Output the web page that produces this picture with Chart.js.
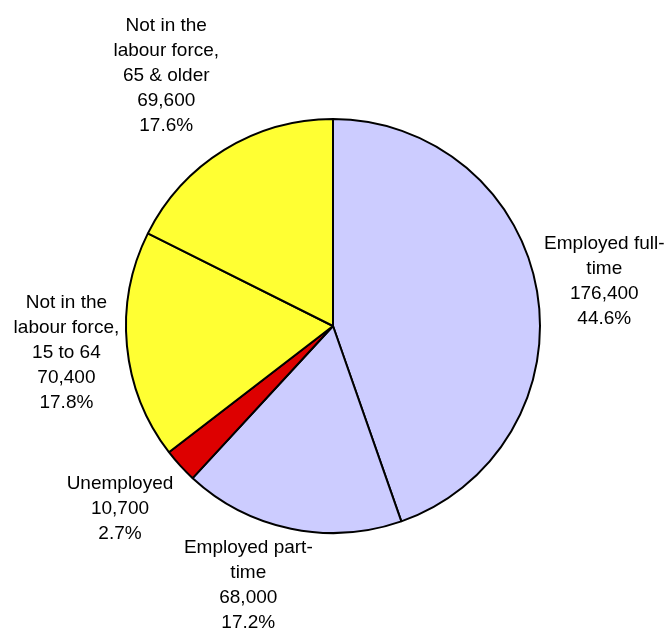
<!DOCTYPE html>
<html>
<head>
<meta charset="utf-8">
<script src="https://cdn.jsdelivr.net/npm/chart.js@4"></script>
<style>
  html, body { margin: 0; padding: 0; background: #ffffff; }
  #wrap { width: 667px; height: 631px; position: relative; }
</style>
</head>
<body>
<div id="wrap"><canvas id="chart" width="667" height="631"></canvas></div>
<script>
// Population by labour force status
const categories = [
  ['Employed full-', 'time'],
  ['Employed part-', 'time'],
  ['Unemployed'],
  ['Not in the', 'labour force,', '15 to 64'],
  ['Not in the', 'labour force,', '65 & older']
];
const values = [176400, 68000, 10700, 70400, 69600];
const colors = ['#CCCCFF', '#CCCCFF', '#DD0000', '#FFFF33', '#FFFF33'];

const total = values.reduce((a, b) => a + b, 0);
const fmt = new Intl.NumberFormat('en-US');

// Outside labels: name lines, count and share, set just beyond each slice
const outsideLabels = {
  id: 'outsideLabels',
  afterDatasetsDraw(chart, args, opts) {
    const ctx = chart.ctx;
    const meta = chart.getDatasetMeta(0);
    const lineH = opts.lineHeight;
    ctx.save();
    ctx.font = opts.font;
    ctx.fillStyle = opts.color;
    ctx.textAlign = 'center';
    ctx.textBaseline = 'middle';
    meta.data.forEach((arc, i) => {
      const p = arc.getProps(['x', 'y', 'startAngle', 'endAngle', 'outerRadius'], true);
      const mid = (p.startAngle + p.endAngle) / 2;
      const v = values[i];
      const lines = categories[i].concat([fmt.format(v), (v / total * 100).toFixed(1) + '%']);
      const w = Math.max(...lines.map(l => ctx.measureText(l).width));
      const h = lines.length * lineH;
      const c = Math.cos(mid), s = Math.sin(mid);
      const r = p.outerRadius + opts.gap;
      const nudge = opts.nudge[i] || [0, 0];
      const cx = p.x + c * r + c * w / 2 + nudge[0];
      const cy = p.y + s * r + s * h / 2 + nudge[1];
      lines.forEach((l, k) => {
        ctx.fillText(l, cx, cy - h / 2 + lineH * (k + 0.5));
      });
    });
    ctx.restore();
  }
};

new Chart(document.getElementById('chart'), {
  type: 'pie',
  data: {
    labels: categories.map(c => c.join(' ')),
    datasets: [{
      data: values,
      backgroundColor: colors,
      borderColor: '#000000',
      borderWidth: 2
    }]
  },
  options: {
    responsive: false,
    animation: false,
    layout: { padding: { left: 125, right: 126, top: 118, bottom: 97 } },
    plugins: {
      legend: { display: false },
      tooltip: { enabled: false },
      outsideLabels: {
        font: '19px "Liberation Sans", Arial, sans-serif',
        color: '#000000',
        lineHeight: 25,
        gap: 8,
        nudge: [[0, 0], [-28, 0], [-15, 12], [0, 0], [-26, -14]]
      }
    }
  },
  plugins: [outsideLabels]
});
</script>
</body>
</html>
